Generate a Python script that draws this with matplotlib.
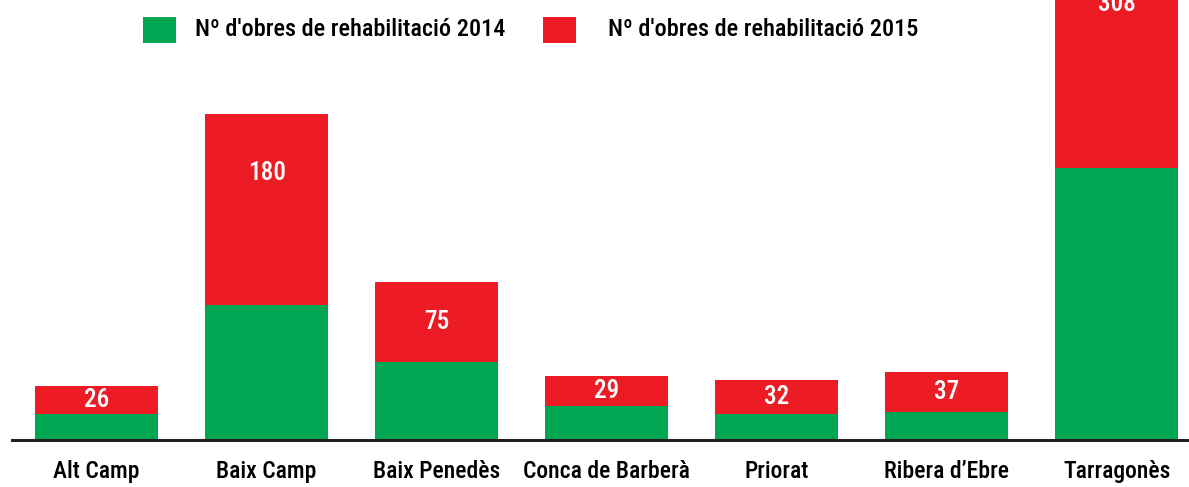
import matplotlib
matplotlib.use("Agg")
import matplotlib.pyplot as plt
from matplotlib.patches import Rectangle
from matplotlib import font_manager as fm
import numpy as np

categories = ["Alt Camp", "Baix Camp", "Baix Penedès", "Conca de Barberà",
              "Priorat", "Ribera d’Ebre", "Tarragonès"]
obres_2014 = [24, 126, 73, 31, 24, 26, 255]
obres_2015 = [26, 180, 75, 29, 32, 37, 308]
label_frac = [0.5, 0.69, 0.5, 0.5, 0.5, 0.5, 0.5]
series_names = ["Nº d'obres de rehabilitació 2014", "Nº d'obres de rehabilitació 2015"]

GREEN = "#00a651"
RED = "#ed1c24"
DARK = "#231f20"


def pick_condensed():
    prefs = ["roboto condensed", "liberation sans narrow", "open sans condensed",
             "noto sans", "dejavu sans", "open sans", "roboto", "lato", "inter"]
    cands = []
    for f in fm.fontManager.ttflist:
        name = f.name.lower()
        path = f.fname.lower()
        st = f.stretch
        cond = ('condensed' in name or 'narrow' in name or 'condensed' in path
                or 'narrow' in path or (isinstance(st, str) and 'condensed' in st)
                or (isinstance(st, (int, float)) and st < 500))
        if not cond or 'extra' in path or 'semi' in path or 'ultra' in path:
            continue
        if f.style != 'normal':
            continue
        w = f.weight if isinstance(f.weight, (int, float)) else {'normal': 400, 'regular': 400, 'medium': 500, 'bold': 700}.get(str(f.weight), 400)
        if w not in (400, 500):
            continue
        rank = len(prefs)
        for i, p in enumerate(prefs):
            if name.startswith(p):
                rank = i
                break
        cands.append((rank, -w, f.fname))
    if cands:
        cands.sort()
        return fm.FontProperties(fname=cands[0][2])
    return fm.FontProperties(family='DejaVu Sans')


FP = pick_condensed()

W, H = 1189, 487
fig = plt.figure(figsize=(W / 100, H / 100), dpi=100)
renderer = fig.canvas.get_renderer()


def fit_size(s, target_px):
    t = fig.text(0, 0, s, fontproperties=FP, fontsize=10)
    w = t.get_window_extent(renderer).width
    t.remove()
    return 10 * target_px / w


ax = fig.add_axes([12 / W, (H - 439.5) / H, 1 - 12 / W, 439.5 / H])

x = np.arange(len(categories))
ax.bar(x, obres_2014, width=0.7235, color=GREEN, linewidth=0)
ax.bar(x, obres_2015, width=0.7235, bottom=obres_2014, color=RED, linewidth=0)

num_size = fit_size("180", 33) * 1.15
for xi, b, v, f in zip(x, obres_2014, obres_2015, label_frac):
    ax.text(xi, b + v * f, str(v), ha='center', va='center', color='white',
            fontproperties=FP, fontsize=num_size, clip_on=True)

ax.set_xlim(-0.497, 6.426)
ax.set_ylim(0, 412.7)
for s in ['top', 'right', 'left']:
    ax.spines[s].set_visible(False)
ax.spines['bottom'].set_color(DARK)
ax.spines['bottom'].set_linewidth(2.2)
ax.set_yticks([])
ax.set_xticks(x)
cat_size = fit_size("Alt Camp", 78) * 1.1
ax.set_xticklabels(categories, fontproperties=FP, fontsize=cat_size, color='black')
ax.tick_params(axis='x', length=0, pad=15)

# legend
leg_size = fit_size(series_names[0], 294) * 1.05
legend_items = [(143 / W, 195 / W, GREEN, series_names[0]),
                (543 / W, 608 / W, RED, series_names[1])]
for sx, tx, c, name in legend_items:
    fig.patches.append(Rectangle((sx, 1 - 42.7 / H), 33 / W, 26 / H,
                                 transform=fig.transFigure, color=c, linewidth=0))
    fig.text(tx, 1 - 29.5 / H, name, ha='left', va='center', fontproperties=FP,
             fontsize=leg_size, color='black')

fig.savefig("out.png", dpi=100)
